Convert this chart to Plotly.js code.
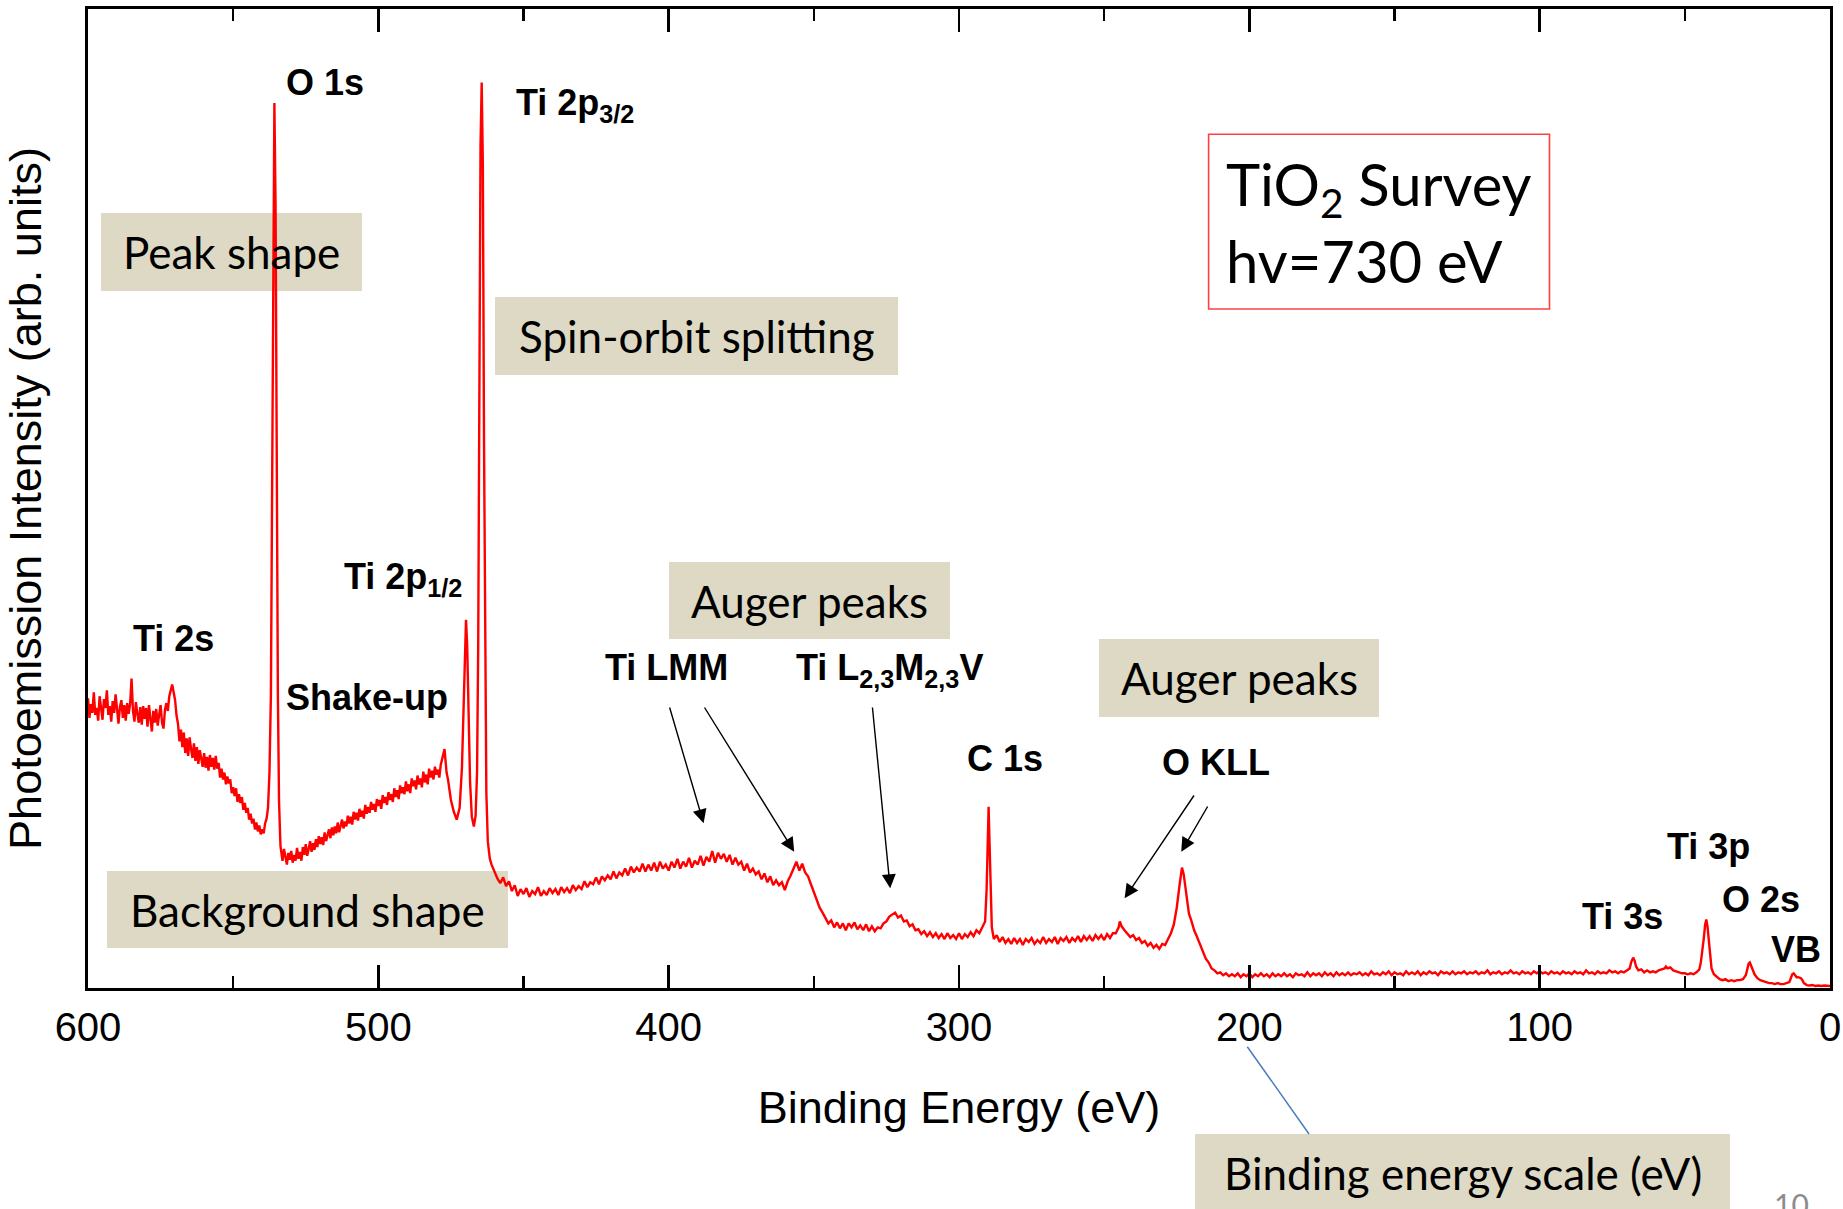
<!DOCTYPE html>
<html>
<head>
<meta charset="utf-8">
<script src="https://cdn.plot.ly/plotly-3.0.1.min.js"></script>
<style>
html,body{margin:0;padding:0;background:#fff;}
#chart{width:1843px;height:1209px;}
</style>
</head>
<body>
<div id="chart"></div>
<script>
// ---------------- DATA ----------------
// Binding energy (eV) / photoemission intensity (arb. units, 0-100 scale) pairs
const regionTi2s = [
[600,29.6],[599.5,27.6],[599,29.0],[598.5,28.1],[598,30.2],[597.5,27.9],[597,28.6],[596.5,27.3],[596,29.8],[595.5,28.4],
[595,27.4],[594.5,29.5],[594,28.6],[593.5,30.4],[593,27.9],[592.5,28.8],[592,27.2],[591.5,29.3],[591,28.1],[590.5,30.0],
[590,28.4],[589.5,27.0],[589,28.7],[588.5,29.4],[588,27.6],[587.5,28.9],[587,27.3],[586.5,29.1],[586,28.0],[585.5,29.0],
[585,31.6],[584.5,28.3],[584,27.2],[583.5,29.2],[583,28.0],[582.5,27.1],[582,28.7],[581.5,26.9],[581,28.8],[580.5,27.5],
[580,28.6],[579.5,26.7],[579,28.9],[578.5,27.4],[578,26.2],[577.5,28.3],[577,27.1],[576.5,28.5],[576,26.8],[575.5,27.9],
[575,28.9],[574.5,27.1],[574,26.5],[573.5,28.4],[573,29.1],[572.5,28.3],[572,29.8],[571.5,30.4],[571,31.0],[570.5,30.2],
[570,29.4],[569.5,27.8],[569,27.0],[568.5,25.2],[568,26.4],[567.5,24.6],[567,26.1],[566.5,24.0],[566,25.5],[565.5,23.7],
[565,25.6],[564.5,24.4],[564,23.5],[563.5,25.0],[563,23.2],[562.5,24.6],[562,22.9],[561.5,24.3],[561,23.3],[560.5,22.6],
[560,24.0],[559.5,22.5],[559,23.6],[558.5,22.2],[558,23.8],[557.5,22.6],[557,23.5],[556.5,22.3],[556,23.7],[555.5,22.4],
[555,23.0],[554.5,21.5],[554,22.4],[553.5,21.3],[553,22.0],[552.5,20.8],[552,21.6],[551.5,20.9],[551,21.3],[550.5,19.9],
[550,20.5],[549.5,19.6],[549,20.4],[548.5,19.0],[548,19.8],[547.5,18.9],[547,19.5],[546.5,18.2],[546,18.9],[545.5,17.9],
[545,18.4],[544.5,17.2],[544,17.8],[543.5,16.8],[543,17.3],[542.5,16.2],[542,16.9],[541.5,16.0],[541,16.6],[540.5,15.7],
[540,16.2],[539.5,15.8],[539,16.8],[538.5,17.3],[538,18.4],[537.5,22]
];
const peakO1s = [
[537,30],[536.6,50],[536.2,78],[535.8,90.4],[535.4,80],[535.0,52],[534.6,30],[534.2,19],[533.7,14.5]
];
const regionShakeUp = [
[533,13.0],[532.5,14.2],[532,13.4],[531.5,12.6],[531,13.8],[530.5,13.1],[530,14.0],[529.5,12.8],[529,13.6],[528.5,13.0],
[528,14.3],[527.5,13.2],[527,13.9],[526.5,13.0],[526,14.4],[525.5,13.6],[525,14.7],[524.5,13.5],[524,14.2],[523.5,15.0],
[523,13.9],[522.5,14.8],[522,14.1],[521.5,15.2],[521,14.4],[520.5,15.5],[520,14.7],[519.5,15.4],[519,14.6],[518.5,15.9],
[518,15.0],[517.5,15.7],[517,16.2],[516.5,15.3],[516,16.4],[515.5,15.6],[515,16.5],[514.5,15.8],[514,16.9],[513.5,15.9],
[513,16.6],[512.5,17.2],[512,16.3],[511.5,17.0],[511,16.5],[510.5,17.6],[510,16.8],[509.5,17.5],[509,16.7],[508.5,18.0],
[508,17.2],[507.5,17.9],[507,17.1],[506.5,18.3],[506,17.5],[505.5,18.1],[505,17.3],[504.5,18.7],[504,17.8],[503.5,18.5],
[503,17.9],[502.5,19.0],[502,18.2],[501.5,18.8],[501,18.0],[500.5,19.3],[500,18.6],[499.5,19.2],[499,18.3],[498.5,19.7],
[498,18.9],[497.5,19.5],[497,18.7],[496.5,20.0],[496,19.2],[495.5,19.8],[495,19.0],[494.5,20.4],[494,19.5],[493.5,20.2],
[493,19.3],[492.5,20.7],[492,19.9],[491.5,20.5],[491,19.8],[490.5,21.1],[490,20.1],[489.5,20.8],[489,19.9],[488.5,21.4],
[488,20.6],[487.5,21.2],[487,20.3],[486.5,21.7],[486,20.8],[485.5,21.4],[485,20.5],[484.5,22.1],[484,21.0],[483.5,21.8],
[483,20.8],[482.5,22.4],[482,21.5],[481.5,22.2],[481,21.3],[480.5,22.6],[480,21.8],[479.5,22.3],[479,21.5],[478.5,22.8],
[478,23.4],[477.2,24.4],[476.5,22.0],[476,21.3],[475,19.2],[474,18.0],[473,17.2],[472,18.4]
];
const peaksTi2p = [
[471.2,22.5],[470.6,30],[470.1,36],[469.8,37.6],[469.4,35],[468.9,28],[468.4,21],[467.8,17.5],[467.1,16.5],[466.5,17.6],
[466.0,22],[465.6,35],[465.2,62],[464.8,86],[464.4,92.5],[464.0,84],[463.6,56],[463.2,32],[462.8,20],[462.3,15.0],
[461.6,13.2],[461,12.6]
];
const regionTiLMM = [
[460,11.8],[459,11.2],[458,10.7],[457,11.3],[456,10.4],[455,10.9],[454,9.9],[453,10.5],[452,9.4],[451,10.1],
[450,9.6],[449,10.2],[448,9.3],[447,9.9],[446,9.6],[445,10.3],[444,9.4],[443,9.9],[442,9.5],[441,10.2],
[440,9.7],[439,10.1],[438,9.5],[437,10.3],[436,9.8],[435,10.2],[434,9.7],[433,10.5],[432,10.0],[431,10.4],
[430,10.1],[429,10.9],[428,10.3],[427,10.8],[426,10.6],[425,11.3],[424,10.6],[423,11.4],[422,11.0],[421,11.5],
[420,11.1],[419,11.9],[418,11.2],[417,11.8],[416,11.5],[415,12.2],[414,11.5],[413,12.4],[412,11.8],[411,12.3],
[410,11.9],[409,12.7],[408,11.9],[407,12.6],[406,12.0],[405,12.8],[404,11.9],[403,12.9],[402,12.2],[401,12.6],
[400,12.0],[399,12.9],[398,12.3],[397,13.2],[396,12.2],[395,12.9],[394,12.4],[393,13.3],[392,12.3],[391,13.0],
[390,12.6],[389,13.5],[388,12.5],[387,13.4],[386,12.9],[385,14.0],[384,12.8],[383,13.8],[382,13.2],[381,13.7],
[380,12.9],[379,13.6],[378,12.6],[377,13.3],[376,12.6],[375,12.9],[374,12.0],[373,12.7],[372,11.8],[371,12.2],
[370,11.6],[369,11.9],[368,11.1],[367,11.7],[366,10.8],[365,11.4],[364,10.5],[363,11.0],[362,10.5],[361,10.8],
[360,10.0],[359,10.9],[358,11.5],[357,12.2],[356,12.9],[355,12.0],[354,12.7],[353,11.8],[352,11.4],[351,10.6],
[350,9.8],[349,9.0],[348,8.2],[347,7.7],[346,7.1],[345,6.6],[344,6.9],[343,6.2],[342,6.7],[341,6.1],
[340,6.6],[339,5.9],[338,6.6],[337,6.2],[336,6.7],[335,6.0],[334,6.4],[333,5.9],[332,6.5],[331,5.8],
[330,6.3],[329,5.8],[328,6.2],[327,6.1],[326,6.6],[325,6.8],[324,7.3],[323,7.5],[322,7.7],[321,7.2],
[320,7.4],[319,6.8],[318,6.9],[317,6.3],[316,6.5],[315,5.9],[314,6.0],[313,5.5],[312,5.8],[311,5.3],
[310,5.7],[309,5.2],[308,5.6],[307,5.1],[306,5.5],[305,5.0],[304,5.6],[303,5.1],[302,5.4],[301,5.0],
[300,5.6],[299,5.0],[298,5.5],[297,5.2],[296,5.7],[295,5.3],[294,5.9],[293,5.6],[292,6.2],[291,6.8]
];
const peakC1s = [
[290.5,10],[290.1,16],[289.8,18.5],[289.5,15],[289.1,9],[288.7,6.2],[288,5.0]
];
const regionOKLL = [
[287,5.4],[286,4.7],[285,5.2],[284,4.6],[283,5.0],[282,4.5],[281,5.1],[280,4.6],[279,5.0],[278,4.4],
[277,5.0],[276,4.7],[275,5.1],[274,4.5],[273,4.9],[272,4.6],[271,5.2],[270,4.6],[269,5.0],[268,4.7],
[267,5.2],[266,4.5],[265,5.1],[264,4.8],[263,5.2],[262,4.6],[261,5.1],[260,4.8],[259,5.3],[258,4.7],
[257,5.3],[256,4.9],[255,5.3],[254,4.8],[253,5.4],[252,5.0],[251,5.4],[250,4.9],[249,5.5],[248,5.1],
[247,5.6],[246,5.6],[245,6.2],[244.6,6.8],[244,6.3],[243,5.9],[242,5.6],[241,5.2],[240,5.4],[239,4.9],
[238,5.1],[237,4.6],[236,4.8],[235,4.3],[234,4.6],[233,4.1],[232,4.4],[231,4.0],[230,4.5],[229,4.4],
[228,5.0],[227,5.6],[226,6.5],[225,8.2],[224,10.6],[223.2,12.3],[222.6,11.6],[222,10.4],[221.4,8.8],[220.8,7.6],
[220,6.9],[219,5.9],[218,5.2],[217,4.4],[216,3.7],[215,3.0],[214,2.6],[213,2.0],[212,1.8],[211,1.5],
[210,1.6],[209,1.3],[208,1.5],[207,1.2],[206,1.4]
];
const regionFlat = [
[205,1.2],[204,1.5],[203,1.1],[202,1.4],[201,1.2],[200,1.5],[199,1.1],[198,1.4],[197,1.2],[196,1.5],
[195,1.2],[194,1.4],[193,1.1],[192,1.5],[191,1.2],[190,1.4],[189,1.2],[188,1.5],[187,1.2],[186,1.4],
[185,1.1],[184,1.5],[183,1.3],[182,1.4],[181,1.2],[180,1.6],[179,1.2],[178,1.5],[177,1.3],[176,1.5],
[175,1.2],[174,1.6],[173,1.3],[172,1.5],[171,1.2],[170,1.6],[169,1.3],[168,1.5],[167,1.3],[166,1.6],
[165,1.3],[164,1.5],[163,1.4],[162,1.6],[161,1.3],[160,1.5],[159,1.3],[158,1.7],[157,1.4],[156,1.5],
[155,1.3],[154,1.6],[153,1.4],[152,1.7],[151,1.3],[150,1.6],[149,1.4],[148,1.5],[147,1.3],[146,1.7],
[145,1.4],[144,1.6],[143,1.4],[142,1.7],[141,1.3],[140,1.6],[139,1.4],[138,1.7],[137,1.5],[136,1.6],
[135,1.3],[134,1.7],[133,1.5],[132,1.6],[131,1.4],[130,1.7],[129,1.4],[128,1.6],[127,1.5],[126,1.7],
[125,1.4],[124,1.6],[123,1.5],[122,1.7],[121,1.4],[120,1.6],[119,1.5],[118,1.8],[117,1.4],[116,1.6],
[115,1.5],[114,1.7],[113,1.4],[112,1.6],[111,1.5],[110,1.8],[109,1.5],[108,1.6],[107,1.4],[106,1.7],
[105,1.5],[104,1.6],[103,1.4],[102,1.7],[101,1.5],[100,1.7],[99,1.5],[98,1.6],[97,1.4],[96,1.7],
[95,1.5],[94,1.6],[93,1.4],[92,1.7],[91,1.5],[90,1.6],[89,1.4],[88,1.7],[87,1.5],[86,1.6],
[85,1.4],[84,1.8],[83,1.5],[82,1.6],[81,1.4],[80,1.7],[79,1.5],[78,1.6],[77,1.5],[76,1.8],
[75,1.6],[74,1.7],[73,1.5],[72,1.7],[71,1.6],[70,1.8]
];
const peaksTi3sTi3p = [
[69,2.0],[68.4,2.7],[67.8,3.1],[67.3,2.8],[66.8,2.2],[66,1.8],[65,1.9],[64,1.6],[63,1.8],[62,1.6],
[61,1.7],[60,1.6],[59,1.8],[58,1.9],[57,2.0],[56.5,2.2],[56,2.0],[55,2.1],[54,1.8],[53,1.7],
[52,1.6],[51,1.5],[50,1.5],[49,1.4],[48,1.5],[47,1.4],[46,1.6],[45,1.9],[44.5,2.6],[44,3.6],
[43.5,5.0],[43.0,6.5],[42.6,7.0],[42.2,6.3],[41.8,4.8],[41.3,3.0],[40.8,2.0],[40,1.4],[39,1.1],[38,0.9]
];
const peaksO2sVB = [
[37,0.8],[36,0.9],[35,0.7],[34,0.8],[33,0.7],[32,0.8],[31,0.8],[30,0.9],[29,1.3],[28.5,1.9],
[28,2.5],[27.6,2.6],[27.2,2.3],[26.8,1.9],[26,1.4],[25,1.0],[24,0.8],[23,0.7],[22,0.6],[21,0.5],
[20,0.5],[19,0.4],[18,0.5],[17,0.4],[16,0.4],[15,0.5],[14,0.6],[13.5,1.0],[13,1.4],[12.5,1.5],
[12,1.3],[11.5,1.1],[11,1.1],[10,1.0],[9.5,0.8],[9,0.5],[8,0.3],[7,0.25],[6,0.3],[5,0.2],
[4,0.25],[3,0.2],[2,0.25],[1,0.2],[0,0.2]
];

const xTickValues = [600, 500, 400, 300, 200, 100, 0];
const xTickLabels = ['600', '500', '400', '300', '200', '100', '0'];

const peakLabels = ['<b>O 1s</b>', '<b>Ti 2p<sub>3/2</sub></b>', '<b>Ti 2s</b>', '<b>Shake-up</b>',
  '<b>Ti 2p<sub>1/2</sub></b>', '<b>Ti LMM</b>', '<b>Ti L<sub>2,3</sub>M<sub>2,3</sub>V</b>', '<b>C 1s</b>',
  '<b>O KLL</b>', '<b>Ti 3p</b>', '<b>O 2s</b>', '<b>Ti 3s</b>', '<b>VB</b>'];
const calloutLabels = ['Peak shape', 'Spin-orbit splitting', 'Background shape', 'Auger peaks', 'Auger peaks',
  'Binding energy scale (eV)'];
const infoLines = ['TiO<sub>2</sub> Survey', 'hv=730 eV'];
const xTitle = 'Binding Energy (eV)';
const yTitle = 'Photoemission Intensity (arb. units)';
const pageNumber = '10';

// ---------------- LAYOUT HELPERS ----------------
const spectrum = [].concat(regionTi2s, peakO1s, regionShakeUp, peaksTi2p, regionTiLMM, peakC1s,
  regionOKLL, regionFlat, peaksTi3sTi3p, peaksO2sVB);
const xs = spectrum.map(p => p[0]);
const ys = spectrum.map(p => p[1]);

const PL = 88, PR = 1830, PT = 9, PB = 988;
const px = X => (X - PL) / (PR - PL);
const py = Y => (PB - Y) / (PB - PT);

const arial = 'Liberation Sans, Arial, sans-serif';
const calibri = 'Lato, Carlito, Calibri, sans-serif';

// label positions in page pixels: [left x, vertical centre y]
const peakLabelPos = [[284,83],[514,105],[131,638],[284,697],[342,579],[603,667],[794,670],[965,759],
  [1160,762],[1665,846],[1720,899],[1580,916],[1769,949]];
// callout boxes: [x0, y0, x1, y1]
const calloutBoxes = [[101,213,362,291],[495,297,898,375],[107,871,508,948],[669,562,950,639],
  [1099,639,1379,717],[1195,1134,1730,1215]];
// arrows: [headX, headY, tailX, tailY]
const arrows = [[703.6,823.3,669.2,706],[794.2,851.7,703.6,706],[890.2,888.3,872.3,706],
  [1124.6,898.3,1195,794],[1181.3,851.7,1208.5,805]];

const shapes = [];
const annotations = [];

calloutBoxes.forEach((b, i) => {
  shapes.push({type:'rect', xref:'paper', yref:'paper', x0:px(b[0]), x1:px(b[2]), y0:py(b[3]), y1:py(b[1]),
    fillcolor:'#DDD9C4', line:{width:0}, layer:'below'});
  annotations.push({xref:'paper', yref:'paper', x:px((b[0]+b[2])/2), y:py((b[1]+Math.min(b[3],1211))/2 ),
    xanchor:'center', yanchor:'middle', showarrow:false, text:calloutLabels[i],
    font:{family:calibri, size:44, color:'#000'}});
});

// info box
shapes.push({type:'rect', xref:'paper', yref:'paper', x0:px(1208.6), x1:px(1549.5), y0:py(309), y1:py(134.3),
  fillcolor:'#fff', line:{color:'#FF4040', width:1.6}, layer:'above'});
annotations.push({xref:'paper', yref:'paper', x:px(1224), y:py(188), xanchor:'left', yanchor:'middle',
  showarrow:false, text:infoLines[0], font:{family:calibri, size:58, color:'#000'}});
annotations.push({xref:'paper', yref:'paper', x:px(1224), y:py(260), xanchor:'left', yanchor:'middle',
  showarrow:false, text:infoLines[1], font:{family:calibri, size:58, color:'#000'}});

// blue leader line to the axis
shapes.push({type:'line', xref:'paper', yref:'paper', x0:px(1247.3), y0:py(1046.7), x1:px(1309), y1:py(1134),
  line:{color:'#4A7EBB', width:1.5}, layer:'above'});

peakLabels.forEach((t, i) => {
  annotations.push({xref:'paper', yref:'paper', x:px(peakLabelPos[i][0]), y:py(peakLabelPos[i][1]),
    xanchor:'left', yanchor:'middle', showarrow:false, text:t,
    font:{family:arial, size:36, color:'#000'}});
});

arrows.forEach(a => {
  annotations.push({xref:'paper', yref:'paper', x:px(a[0]), y:py(a[1]), ax:a[2]-a[0], ay:a[3]-a[1],
    axref:'pixel', ayref:'pixel', showarrow:true, text:'', arrowhead:2, arrowsize:2, arrowwidth:1.4,
    arrowcolor:'#000', standoff:0, startstandoff:0});
});

annotations.push({xref:'paper', yref:'paper', x:px(1772), y:py(1184), xanchor:'left', yanchor:'top',
  showarrow:false, text:pageNumber, font:{family:calibri, size:30, color:'#8C8C8C'}});

const trace = {
  type:'scatter', mode:'lines', x:xs, y:ys,
  line:{color:'#FF0000', width:2.4}, hoverinfo:'skip', showlegend:false
};

const layout = {
  width:1843, height:1209,
  margin:{l:PL, r:1843-PR, t:PT, b:1209-PB, pad:0},
  paper_bgcolor:'#fff', plot_bgcolor:'#fff',
  showlegend:false,
  xaxis:{
    range:[600,0], autorange:false,
    showgrid:false, zeroline:false,
    showline:true, linecolor:'#000', linewidth:3, mirror:'ticks',
    ticks:'inside', ticklen:23, tickwidth:2.5, tickcolor:'#000',
    tickmode:'array', tickvals:xTickValues, ticktext:xTickLabels,
    minor:{ticks:'inside', ticklen:12, tickwidth:2.5, tickcolor:'#000', dtick:50, tick0:0, showgrid:false},
    tickfont:{family:arial, size:40, color:'#000'},
    ticklabelstandoff:2,
    title:{text:xTitle, font:{family:arial, size:45, color:'#000'}, standoff:44}
  },
  yaxis:{
    range:[0,100], autorange:false,
    showgrid:false, zeroline:false,
    showline:true, linecolor:'#000', linewidth:3, mirror:true,
    ticks:'', showticklabels:false,
    title:{text:yTitle, font:{family:arial, size:45, color:'#000'}, standoff:30}
  },
  shapes:shapes,
  annotations:annotations
};

Plotly.newPlot('chart', [trace], layout, {staticPlot:true, displayModeBar:false});
</script>
</body>
</html>
